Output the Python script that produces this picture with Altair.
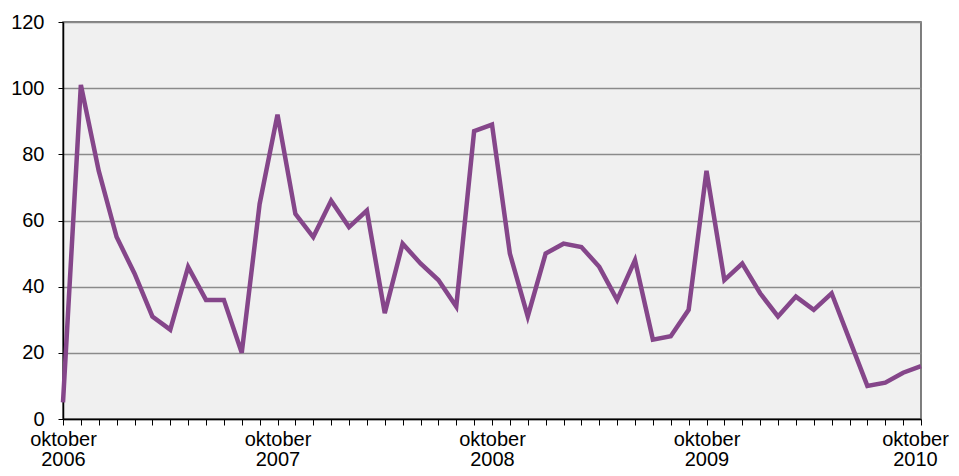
import altair as alt
import pandas as pd

month_index = list(range(49))
values = [5, 101, 75, 55, 44, 31, 27, 46, 36, 36, 20, 65,
          92, 62, 55, 66, 58, 63, 32, 53, 47, 42, 34, 87,
          89, 50, 31, 50, 53, 52, 46, 36, 48, 24, 25, 33,
          75, 42, 47, 38, 31, 37, 33, 38, 24, 10, 11, 14,
          16]
label_month = "oktober"
start_year = 2006
y_ticks = [0, 20, 40, 60, 80, 100, 120]

df = pd.DataFrame({"m": month_index, "v": values})

chart = alt.Chart(df).mark_line(color="#85468A", strokeWidth=4.5, strokeJoin="miter").encode(
    x=alt.X("m:Q", scale=alt.Scale(domain=[0, 48], nice=False, zero=False),
            axis=alt.Axis(values=month_index, grid=False, title=None,
                          labelExpr=f"datum.value % 12 == 0 ? ['{label_month}', '' + ({start_year} + datum.value / 12)] : ''",
                          labelFont="Liberation Sans", labelFontSize=20, labelColor="#000",
                          labelLineHeight=20, labelPadding=4, labelOverlap=False,
                          labelOffset={"condition": {"test": "datum.value == 48", "value": -6}, "value": 0},
                          labelFlush=False, tickSize=6, tickColor="#000", domainColor="#000",
                          domainWidth=1.5, tickWidth=1)),
    y=alt.Y("v:Q", scale=alt.Scale(domain=[0, 120], nice=False),
            axis=alt.Axis(values=y_ticks, title=None, grid=True, gridColor="#8a8a8a",
                          gridWidth=1.5, labelFont="Liberation Sans", labelFontSize=20,
                          labelColor="#000", labelPadding=14, tickSize=5, tickColor="#000",
                          domainColor="#000", domainWidth=1.5)),
).properties(
    width=858, height=397,
    autosize=alt.AutoSizeParams(type="none"),
    padding={"left": 55, "top": 14, "right": 30, "bottom": 49},
).configure_view(
    fill="#F0F0F0", stroke="#555555", strokeWidth=1.5
)

chart.save("out.html", embed_options={"renderer": "svg", "actions": False})
